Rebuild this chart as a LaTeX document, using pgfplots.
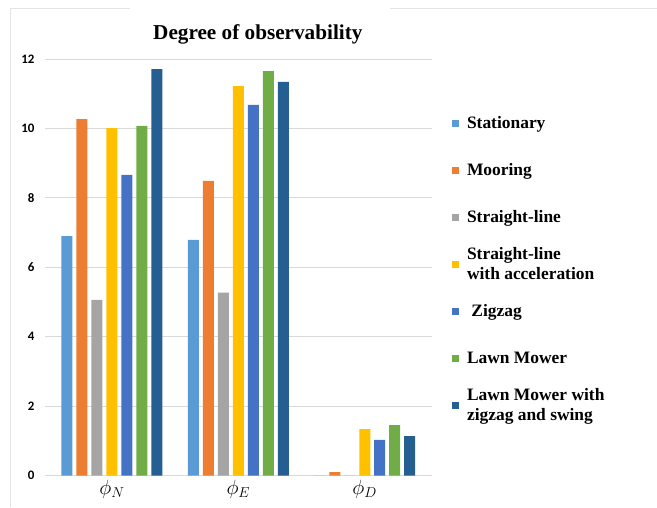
\documentclass[border=0pt]{standalone}
\usepackage{pgfplots}
\pgfplotsset{compat=1.18}
\usepackage{fontspec}
\setmainfont{Liberation Serif}
\newfontfamily\tickfont{Carlito}
\definecolor{cA}{HTML}{5B9BD5}
\definecolor{cB}{HTML}{ED7D31}
\definecolor{cC}{HTML}{A5A5A5}
\definecolor{cD}{HTML}{FFC000}
\definecolor{cE}{HTML}{4472C4}
\definecolor{cF}{HTML}{70AD47}
\definecolor{cG}{HTML}{255E91}
\definecolor{gridc}{HTML}{D9D9D9}
\begin{document}
\begin{tikzpicture}
\path (0bp,0bp) rectangle (657bp,507bp);
\draw[gridc!70,line width=0.8bp] (10bp,499bp) -- (130bp,499bp);
\draw[gridc!70,line width=0.8bp] (390bp,499bp) -- (657bp,499bp);
\draw[gridc!70,line width=0.8bp] (10bp,499bp) -- (10bp,0bp);
\node[font=\bfseries\fontsize{21.3}{25}\selectfont] at (258bp,472.5bp) {Degree of observability};
\begin{axis}[
  at={(45bp,31bp)}, anchor=south west,
  scale only axis, width=387bp, height=417bp,
  ybar=4bp, bar width=11bp,
  xmin=-0.53, xmax=2.53, ymin=0, ymax=12,
  axis line style={draw=none},
  ymajorgrids, grid style={gridc, line width=0.8bp},
  ytick={0,2,4,6,8,10,12},
  yticklabel style={font=\tickfont\bfseries\fontsize{13}{15}\selectfont, xshift=-7bp},
  /pgf/number format/assume math mode=true,
  xtick={0,1,2},
  xticklabels={$\phi_N$,$\phi_E$,$\phi_D$},
  xticklabel style={font=\fontsize{22}{24}\selectfont, yshift=-1bp},
  major tick length=0pt,
  clip=false,
  legend image code/.code={\fill[#1] (0bp,-3.5bp) rectangle (7bp,3.5bp);},
  legend style={draw=none, fill=none, inner sep=0pt, at={(1.052,0.902)}, anchor=north west,
    font=\bfseries\fontsize{17.5}{20.5}\selectfont,
    cells={anchor=west, align=left},
    nodes={minimum height=47bp, inner xsep=2bp},
    /tikz/every odd column/.append style={column sep=6bp}},
  legend cell align=left,
]
\addplot[fill=cA, draw=none] coordinates {(0,6.90) (1,6.79) (2,0)};
\addplot[fill=cB, draw=none] coordinates {(0,10.27) (1,8.49) (2,0.10)};
\addplot[fill=cC, draw=none] coordinates {(0,5.06) (1,5.27) (2,0)};
\addplot[fill=cD, draw=none] coordinates {(0,10.01) (1,11.22) (2,1.34)};
\addplot[fill=cE, draw=none] coordinates {(0,8.66) (1,10.68) (2,1.03)};
\addplot[fill=cF, draw=none] coordinates {(0,10.07) (1,11.65) (2,1.46)};
\addplot[fill=cG, draw=none] coordinates {(0,11.71) (1,11.34) (2,1.14)};
\legend{Stationary, Mooring, Straight-line, {Straight-line\\with acceleration}, {\ Zigzag}, Lawn Mower, {Lawn Mower with\\zigzag and swing}}
\end{axis}
\end{tikzpicture}
\end{document}
